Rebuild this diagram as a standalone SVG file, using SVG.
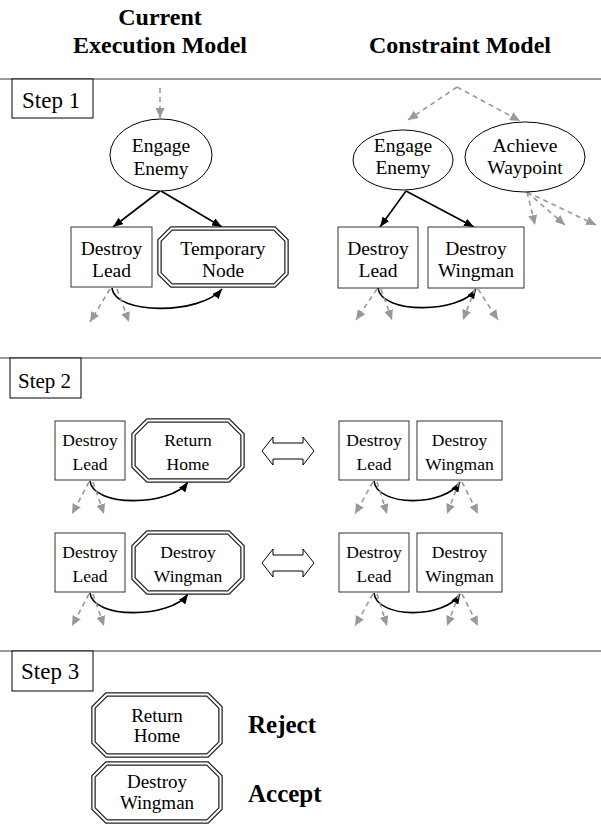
<svg xmlns="http://www.w3.org/2000/svg" width="601" height="825" viewBox="0 0 601 825">
<style>
text{font-family:'Times New Roman',Times,'Liberation Serif','Nimbus Roman','Nimbus Roman No9 L','FreeSerif','DejaVu Serif',serif;fill:#000;text-anchor:middle}
.title{font-size:24px;font-weight:bold}
.verdict{font-size:25px;font-weight:bold;text-anchor:start}
.step{font-size:23px;text-anchor:start}
.step2{font-size:21px;text-anchor:start}
.t1{font-size:19.5px}
.t2{font-size:17.5px}
.t3{font-size:19px}
.box{fill:#fff;stroke:#333;stroke-width:1}
.ell{fill:#fff;stroke:#000;stroke-width:1}
.oct{fill:#fff;stroke:#222;stroke-width:4.5;stroke-linejoin:miter}
.octin{fill:none;stroke:#fff;stroke-width:2;stroke-linejoin:miter}
.div{stroke:#777;stroke-width:1.5}
.sol{fill:none;stroke:#000;stroke-width:1.6;marker-end:url(#ab)}
.dash{fill:none;stroke:#999;stroke-width:1.6;stroke-dasharray:5,4;marker-end:url(#ag)}
.dbl{fill:#fff;stroke:#000;stroke-width:1}
</style>
<defs>
<marker id="ab" markerUnits="userSpaceOnUse" markerWidth="10" markerHeight="8" viewBox="0 0 10 8" refX="10" refY="4" orient="auto"><path d="M0,0 L10,4 L0,8 z" fill="#000"/></marker>
<marker id="ag" markerUnits="userSpaceOnUse" markerWidth="10" markerHeight="9" viewBox="0 0 10 9" refX="10" refY="4.5" orient="auto"><path d="M0,0 L10,4.5 L0,9 z" fill="#999"/></marker>
</defs>

<g id="headers">
<text class="title" x="160" y="25">Current</text>
<text class="title" x="160" y="53">Execution Model</text>
<text class="title" x="460" y="53">Constraint Model</text>
</g>

<g id="dividers">
<line class="div" x1="0" y1="79" x2="601" y2="79"/>
<line class="div" x1="0" y1="358" x2="601" y2="358"/>
<line class="div" x1="0" y1="651" x2="601" y2="651"/>
</g>

<g id="step1-label"><rect class="dbl" x="12" y="79" width="81" height="39"/><text class="step" x="22" y="108">Step 1</text></g>
<g id="step2-label"><rect class="dbl" x="10" y="358" width="71" height="40"/><text class="step2" x="18" y="388">Step 2</text></g>
<g id="step3-label"><rect class="dbl" x="12" y="651" width="81" height="40"/><text class="step" x="21" y="679">Step 3</text></g>

<g id="connectors">
<line class="dash" x1="160" y1="88" x2="160" y2="118"/>
<line class="sol" x1="160" y1="191" x2="113" y2="227"/>
<line class="sol" x1="161" y1="191" x2="222" y2="227"/>
<path class="sol" d="M112,288 C115,315 200,315 222,289"/>
<line class="dash" x1="110" y1="289" x2="90" y2="322"/>
<line class="dash" x1="117" y1="289" x2="129" y2="322"/>
<line class="dash" x1="457" y1="87" x2="408" y2="120"/>
<line class="dash" x1="457" y1="87" x2="520" y2="121"/>
<line class="dash" x1="527" y1="192" x2="535" y2="225"/>
<line class="dash" x1="527" y1="192" x2="565" y2="225"/>
<line class="dash" x1="527" y1="192" x2="596" y2="225"/>
<line class="sol" x1="406" y1="191" x2="380" y2="227"/>
<line class="sol" x1="406" y1="191" x2="474" y2="227"/>
<path class="sol" d="M378,288 C381,314 460,314 476,289"/>
<line class="dash" x1="377" y1="289" x2="356" y2="320"/>
<line class="dash" x1="381" y1="289" x2="392" y2="320"/>
<line class="dash" x1="475" y1="289" x2="463" y2="320"/>
<line class="dash" x1="478" y1="289" x2="498" y2="320"/>
<path class="sol" d="M90,481 C93,507 170,507 188,482"/>
<line class="dash" x1="89" y1="482" x2="72" y2="514"/>
<line class="dash" x1="93" y1="482" x2="104" y2="514"/>
<path class="sol" d="M374,481 C377,507 445,507 460,482"/>
<line class="dash" x1="373" y1="482" x2="355" y2="514"/>
<line class="dash" x1="377" y1="482" x2="387" y2="514"/>
<line class="dash" x1="459" y1="482" x2="447" y2="514"/>
<line class="dash" x1="462" y1="482" x2="478" y2="514"/>
<path class="sol" d="M90,593 C93,619 170,619 188,594"/>
<line class="dash" x1="89" y1="594" x2="72" y2="626"/>
<line class="dash" x1="93" y1="594" x2="104" y2="626"/>
<path class="sol" d="M374,593 C377,619 445,619 460,594"/>
<line class="dash" x1="373" y1="594" x2="355" y2="626"/>
<line class="dash" x1="377" y1="594" x2="387" y2="626"/>
<line class="dash" x1="459" y1="594" x2="447" y2="626"/>
<line class="dash" x1="462" y1="594" x2="478" y2="626"/>
<polygon class="dbl" points="262,451 273,437 273,443 303,443 303,437 314,451 303,465 303,459 273,459 273,465"/>
<polygon class="dbl" points="262,563 273,549 273,555 303,555 303,549 314,563 303,577 303,571 273,571 273,577"/>
</g>

<g id="s1-engage"><ellipse class="ell" cx="161" cy="155" rx="51" ry="36"/><text class="t1" x="161" y="152">Engage</text><text class="t1" x="161" y="175">Enemy</text></g>
<g id="s1-lead"><rect class="box" x="71" y="227" width="81" height="60"/><text class="t1" x="111.5" y="255">Destroy</text><text class="t1" x="111.5" y="277">Lead</text></g>
<g id="s1-temp"><polygon class="oct" points="171.5,228.5 274.5,228.5 286.5,240.5 286.5,273.5 274.5,285.5 171.5,285.5 159.5,273.5 159.5,240.5"/><polygon class="octin" points="171.5,228.5 274.5,228.5 286.5,240.5 286.5,273.5 274.5,285.5 171.5,285.5 159.5,273.5 159.5,240.5"/><text class="t1" x="223" y="255">Temporary</text><text class="t1" x="223" y="277">Node</text></g>

<g id="s1c-engage"><ellipse class="ell" cx="403" cy="160" rx="50" ry="30"/><text class="t1" x="403" y="152">Engage</text><text class="t1" x="403" y="174">Enemy</text></g>
<g id="s1c-waypoint"><ellipse class="ell" cx="525" cy="157" rx="60" ry="35"/><text class="t1" x="525" y="152">Achieve</text><text class="t1" x="525" y="174">Waypoint</text></g>
<g id="s1c-lead"><rect class="box" x="338" y="227" width="80" height="61"/><text class="t1" x="378" y="255">Destroy</text><text class="t1" x="378" y="277">Lead</text></g>
<g id="s1c-wingman"><rect class="box" x="428" y="227" width="96" height="61"/><text class="t1" x="476" y="255">Destroy</text><text class="t1" x="476" y="277">Wingman</text></g>

<g id="s2a-lead"><rect class="box" x="55" y="421" width="70" height="59"/><text class="t2" x="90" y="446">Destroy</text><text class="t2" x="90" y="470">Lead</text></g>
<g id="s2a-home"><polygon class="oct" points="147.5,420.5 228.5,420.5 242.5,434.5 242.5,466.5 228.5,480.5 147.5,480.5 133.5,466.5 133.5,434.5"/><polygon class="octin" points="147.5,420.5 228.5,420.5 242.5,434.5 242.5,466.5 228.5,480.5 147.5,480.5 133.5,466.5 133.5,434.5"/><text class="t2" x="188" y="446">Return</text><text class="t2" x="188" y="470">Home</text></g>
<g id="s2a-clead"><rect class="box" x="339" y="421" width="70" height="59"/><text class="t2" x="374" y="446">Destroy</text><text class="t2" x="374" y="470">Lead</text></g>
<g id="s2a-cwingman"><rect class="box" x="417" y="421" width="85" height="59"/><text class="t2" x="459.5" y="446">Destroy</text><text class="t2" x="459.5" y="470">Wingman</text></g>

<g id="s2b-lead"><rect class="box" x="55" y="533" width="70" height="59"/><text class="t2" x="90" y="558">Destroy</text><text class="t2" x="90" y="582">Lead</text></g>
<g id="s2b-wingman"><polygon class="oct" points="147.5,532.5 228.5,532.5 242.5,546.5 242.5,578.5 228.5,592.5 147.5,592.5 133.5,578.5 133.5,546.5"/><polygon class="octin" points="147.5,532.5 228.5,532.5 242.5,546.5 242.5,578.5 228.5,592.5 147.5,592.5 133.5,578.5 133.5,546.5"/><text class="t2" x="188" y="558">Destroy</text><text class="t2" x="188" y="582">Wingman</text></g>
<g id="s2b-clead"><rect class="box" x="339" y="533" width="70" height="59"/><text class="t2" x="374" y="558">Destroy</text><text class="t2" x="374" y="582">Lead</text></g>
<g id="s2b-cwingman"><rect class="box" x="417" y="533" width="85" height="59"/><text class="t2" x="459.5" y="558">Destroy</text><text class="t2" x="459.5" y="582">Wingman</text></g>

<g id="s3-home"><polygon class="oct" points="106.5,694.5 207.5,694.5 220.5,707.5 220.5,742.5 207.5,755.5 106.5,755.5 93.5,742.5 93.5,707.5"/><polygon class="octin" points="106.5,694.5 207.5,694.5 220.5,707.5 220.5,742.5 207.5,755.5 106.5,755.5 93.5,742.5 93.5,707.5"/><text class="t3" x="157" y="722">Return</text><text class="t3" x="157" y="742">Home</text></g>
<g id="s3-reject"><text class="verdict" x="248" y="733">Reject</text></g>
<g id="s3-wingman"><polygon class="oct" points="106.5,763.5 207.5,763.5 220.5,776.5 220.5,808.5 207.5,821.5 106.5,821.5 93.5,808.5 93.5,776.5"/><polygon class="octin" points="106.5,763.5 207.5,763.5 220.5,776.5 220.5,808.5 207.5,821.5 106.5,821.5 93.5,808.5 93.5,776.5"/><text class="t3" x="157" y="788">Destroy</text><text class="t3" x="157" y="809">Wingman</text></g>
<g id="s3-accept"><text class="verdict" x="248" y="802">Accept</text></g>
</svg>
